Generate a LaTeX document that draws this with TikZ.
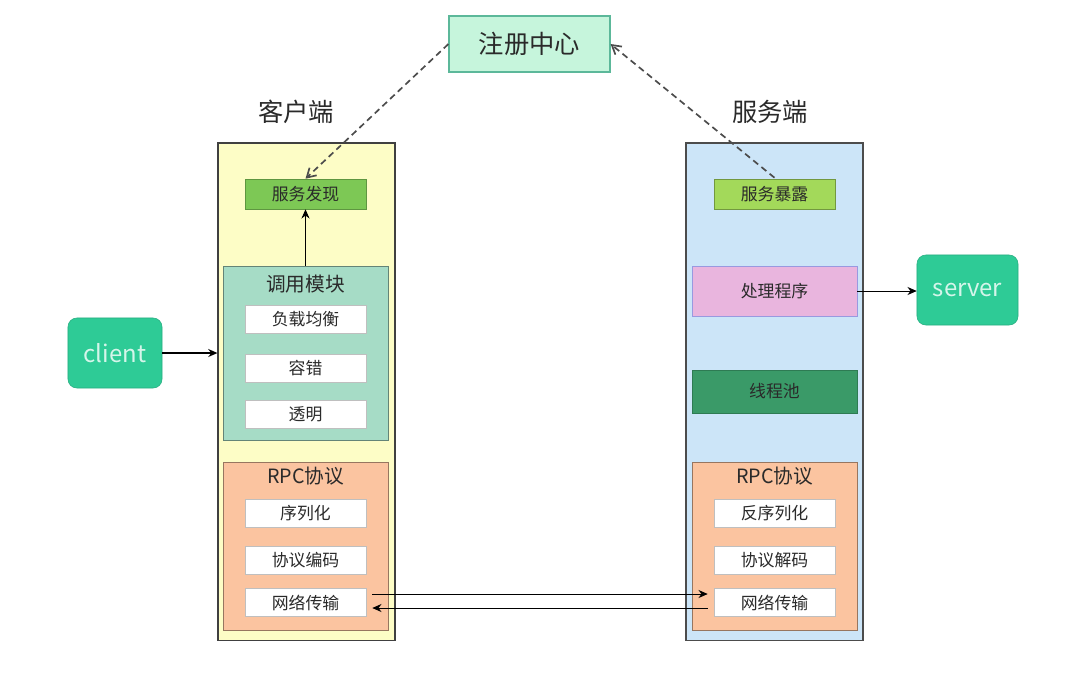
\documentclass[tikz,border=0pt]{standalone}
\usepackage{fontspec}
\setmainfont{Noto Sans CJK SC}
\usepackage{xcolor}
\usetikzlibrary{positioning, arrows.meta, calc}
\definecolor{regfill}{HTML}{C6F5DC}
\definecolor{regdraw}{HTML}{5CB89A}
\definecolor{cliback}{HTML}{FDFDC6}
\definecolor{srvback}{HTML}{CCE5F8}
\definecolor{findfill}{HTML}{7DC855}
\definecolor{exposefill}{HTML}{A3D95A}
\definecolor{callfill}{HTML}{A6DCC6}
\definecolor{rpcfill}{HTML}{FBC4A0}
\definecolor{procfill}{HTML}{E9B5DE}
\definecolor{poolfill}{HTML}{3A9A68}
\definecolor{endfill}{HTML}{2ECB96}
\definecolor{txtgray}{HTML}{2A2A2A}
\tikzset{
    container/.style={rectangle, draw=black!75, thick, minimum width=4.425cm, minimum height=12.425cm},
    module/.style={rectangle, draw, minimum width=4.125cm},
    itembox/.style={rectangle, fill=white, draw=black!25, minimum width=3.025cm, minimum height=0.7cm, font=\fontsize{12}{14}\selectfont, text=txtgray},
    tagbox/.style={rectangle, draw, minimum width=3.025cm, minimum height=0.75cm, font=\fontsize{12}{14}\selectfont, text=txtgray},
    endnode/.style={rectangle, rounded corners=0.22cm, fill=endfill, draw=endfill!85!black, minimum height=1.75cm, font=\fontsize{17}{20}\selectfont, text=white!80!endfill},
    title/.style={font=\fontsize{14}{16}\selectfont, text=txtgray},
    side/.style={font=\fontsize{18}{21}\selectfont, text=txtgray},
    regline/.style={line width=1.2pt, black!70, dash pattern=on 4.5pt off 3pt, -{Straight Barb[length=2.2mm, width=2.6mm]}},
    flow/.style={-{Stealth[length=2.3mm, width=2mm]}, line width=0.6pt}
}
\begin{document}
\begin{tikzpicture}[x=0.025cm, y=-0.025cm]
    \useasboundingbox (0,0) rectangle (1080,686);
    % registry
    \node[rectangle, fill=regfill, draw=regdraw, thick, minimum width=4.025cm, minimum height=1.4cm, font=\fontsize{18}{21}\selectfont, text=txtgray] (reg) at (529.5,44) {注册中心};
    \node[side] (clilbl) at (296,112) {客户端};
    \node[side] (srvlbl) at (770,112) {服务端};

    % client side
    \node[container, fill=cliback] (cli) at (306.5,391.5) {};
    \node[tagbox, fill=findfill, draw=findfill!75!black] (find) at (305.5,194) {服务发现};
    \node[module, fill=callfill, draw=callfill!60!black, minimum height=4.35cm] (call) at (305.5,353) {};
    \node[title] (calltitle) at (305.5,284) {调用模块};
    \node[itembox] (lb) at (305.5,319) {负载均衡};
    \node[itembox] (ft) at (305.5,368) {容错};
    \node[itembox] (tp) at (305.5,414) {透明};
    \node[module, fill=rpcfill, draw=rpcfill!60!black, minimum height=4.2cm] (rpcl) at (305.5,546) {};
    \node[title] (rpcltitle) at (305.5,476) {RPC协议};
    \node[itembox] (ser) at (305.5,513) {序列化};
    \node[itembox] (enc) at (305.5,560.5) {协议编码};
    \node[itembox] (netl) at (305.5,602.5) {网络传输};

    % server side
    \node[container, fill=srvback, draw=black!70] (srv) at (774.5,391.5) {};
    \node[tagbox, fill=exposefill, draw=exposefill!70!black] (expose) at (774.5,194) {服务暴露};
    \node[module, fill=procfill, draw=black!30!blue!40, minimum height=1.25cm, font=\fontsize{12}{14}\selectfont, text=txtgray] (proc) at (774.5,291) {处理程序};
    \node[module, fill=poolfill, draw=poolfill!80!black, minimum height=1.075cm, font=\fontsize{12}{14}\selectfont, text=txtgray] (pool) at (774.5,391.5) {线程池};
    \node[module, fill=rpcfill, draw=rpcfill!60!black, minimum height=4.2cm] (rpcr) at (774.5,546) {};
    \node[title] (rpcrtitle) at (774.5,476) {RPC协议};
    \node[itembox] (deser) at (774.5,513) {反序列化};
    \node[itembox] (dec) at (774.5,560.5) {协议解码};
    \node[itembox] (netr) at (774.5,602.5) {网络传输};

    % endpoints
    \node[endnode, minimum width=2.35cm] (client) at (115,353) {client};
    \node[endnode, minimum width=2.525cm] (server) at (967.5,290) {server};

    % connectors
    \draw[flow] (call.north) -- (find.south);
    \draw[flow, thick] (client.east) -- (cli.west |- client.east);
    \draw[flow] (proc.east) -- (server.west |- proc.east);
    \draw[regline] (reg.west) -- (find.north);
    \draw[regline] ($(expose.north)+(0,-1)$) -- (reg.east);
    \draw[flow, shorten <=0.15cm, shorten >=0.15cm] ($(netl.east)+(0,-8.5)$) -- ($(netr.west)+(0,-8.5)$);
    \draw[flow, shorten <=0.15cm, shorten >=0.15cm] ($(netr.west)+(0,5.5)$) -- ($(netl.east)+(0,5.5)$);
\end{tikzpicture}
\end{document}
